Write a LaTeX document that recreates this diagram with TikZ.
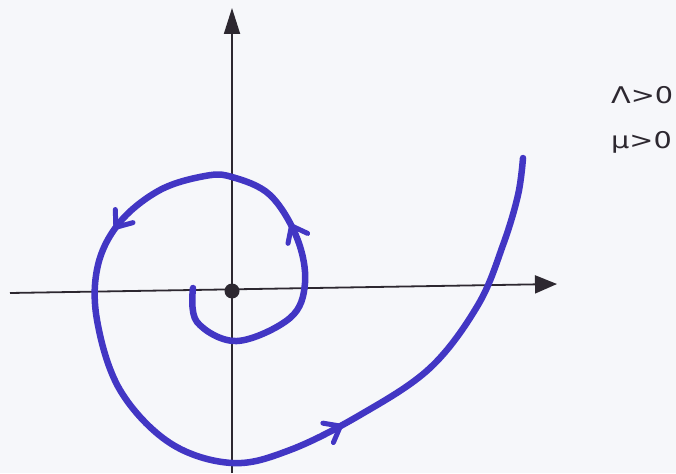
\documentclass[tikz,border=0pt]{standalone}
\usepackage{fontspec}
\setmainfont{DejaVu Sans}
\usetikzlibrary{arrows.meta,decorations.markings}
\definecolor{pen}{RGB}{66,54,196}
\definecolor{ax}{RGB}{45,40,48}
\definecolor{bg}{RGB}{246,247,250}
\begin{document}
\begin{tikzpicture}[x=1pt,y=-1pt,
  axis/.style={draw=ax,line width=1.8pt},
  spiral/.style={draw=pen,line width=6.5pt,line cap=round,line join=round},
  chev/.style={draw=pen,line width=5pt,line cap=round,line join=round},
  lbl/.style={font=\fontsize{23}{26}\selectfont,text=ax,anchor=west,inner sep=0pt}]
\fill[bg] (0,0) rectangle (676,473);
\useasboundingbox (0,0) rectangle (676,473);
\coordinate (xl) at (10,293);
\coordinate (xr) at (557,284);
\coordinate (yb) at (232,473);
\coordinate (yt) at (232,8);
\draw[axis,-{Triangle[length=22pt,width=18pt]}] (xl) -- (xr);
\draw[axis,-{Triangle[length=26pt,width=16pt]}] (yb) -- (yt);
\node[circle,fill=ax,minimum size=15pt,inner sep=0pt] (o) at (232,291) {};
\draw[spiral,postaction={decorate},decoration={markings,
    mark=at position 0.195 with {\draw[chev] (-14pt,11pt) -- (0pt,0pt) -- (-14pt,-11pt);},
    mark=at position 0.37 with {\draw[chev] (-14pt,11pt) -- (0pt,0pt) -- (-14pt,-11pt);},
    mark=at position 0.72 with {\draw[chev] (-14pt,11pt) -- (0pt,0pt) -- (-14pt,-11pt);}}]
  plot[smooth,tension=0.6] coordinates {
    (193,288) (197,322) (237,341) (290,318) (305,283) (297,238) (270,195)
    (232,177) (205,176) (160,190) (120,222) (98,265) (97,320) (120,390)
    (170,443) (232,463) (290,450) (360,415) (430,368) (478,305) (503,245)
    (518,195) (523,158)};
\node[lbl] (lam) at (611,95) {\scalebox{1.25}[1]{Λ>0}};
\node[lbl] (mu) at (611,142) {\scalebox{1.25}[1]{μ>0}};
\end{tikzpicture}
\end{document}
